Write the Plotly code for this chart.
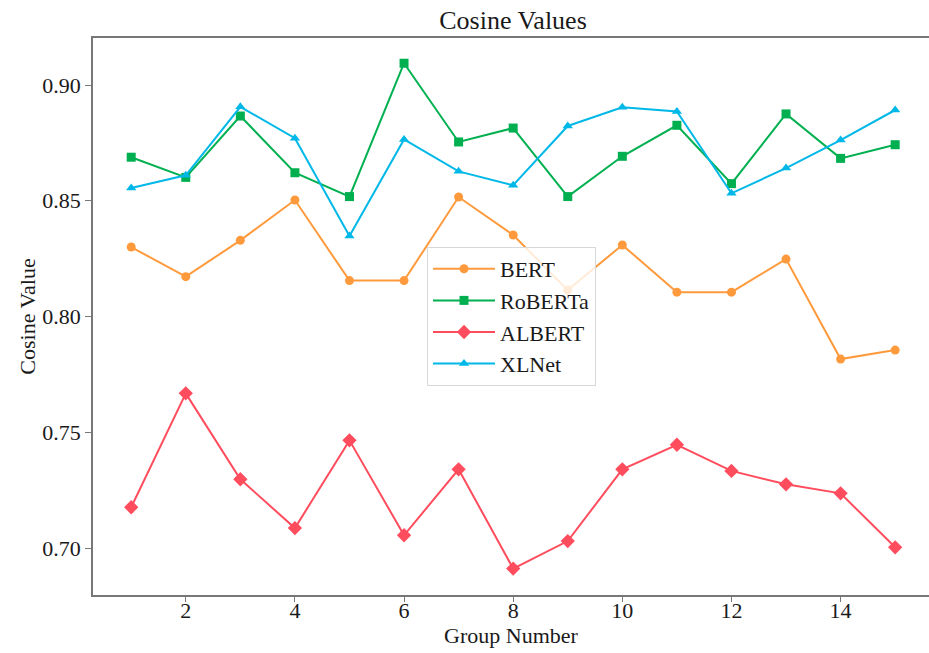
import plotly.graph_objects as go

groups = list(range(1, 16))
bert = [0.8300, 0.8172, 0.8329, 0.8503, 0.8155, 0.8155, 0.8516, 0.8352, 0.8114,
        0.8309, 0.8105, 0.8105, 0.8248, 0.7816, 0.7855]
roberta = [0.8688, 0.8601, 0.8866, 0.8621, 0.8518, 0.9094, 0.8754, 0.8814, 0.8518,
           0.8692, 0.8826, 0.8574, 0.8875, 0.8683, 0.8742]
albert = [0.7176, 0.7668, 0.7297, 0.7086, 0.7465, 0.7055, 0.7340, 0.6911, 0.7030,
          0.7340, 0.7446, 0.7333, 0.7275, 0.7236, 0.7003]
xlnet = [0.8555, 0.8610, 0.8906, 0.8770, 0.8348, 0.8765, 0.8627, 0.8567, 0.8823,
         0.8904, 0.8886, 0.8532, 0.8641, 0.8762, 0.8892]
y_ticks = [0.70, 0.75, 0.80, 0.85, 0.90]
x_ticks = [2, 4, 6, 8, 10, 12, 14]

series = [
    ("BERT", bert, "#FF9A3C", "circle", 9),
    ("RoBERTa", roberta, "#00B050", "square", 9),
    ("ALBERT", albert, "#FF4D5E", "diamond", 11),
    ("XLNet", xlnet, "#00B8E8", "triangle-up", 9),
]

font = "Liberation Serif, Times New Roman, serif"
fig = go.Figure()
for name, vals, color, sym, sz in series:
    fig.add_trace(go.Scatter(
        x=groups, y=vals, name=name, mode="lines+markers",
        line=dict(color=color, width=2),
        marker=dict(symbol=sym, size=sz, color=color),
    ))

W, H = 929, 653
L, R, T, B = 93, 0, 38, 58
pw, ph = W - L - R, H - T - B

fig.update_layout(
    width=W, height=H,
    margin=dict(l=L, r=R, t=T, b=B, pad=0),
    paper_bgcolor="white", plot_bgcolor="white",
    font=dict(family=font, size=22, color="#1a1a1a"),
    title=dict(text="Cosine Values", font=dict(family=font, size=26, color="#1a1a1a"),
               x=(513 - L) / pw, xref="paper", xanchor="center",
               y=1 - 20 / H, yref="container", yanchor="middle"),
    showlegend=True,
    legend=dict(x=(427 - L) / pw, y=(H - B - 247) / ph, xanchor="left", yanchor="top",
                bgcolor="rgba(255,255,255,0.8)", bordercolor="#d8d8d8", borderwidth=1,
                itemwidth=62,
                font=dict(family=font, size=22, color="#1a1a1a")),
)
fig.update_xaxes(
    range=[0.3, 15.62], tickmode="array", tickvals=x_ticks,
    ticks="outside", ticklen=5, tickcolor="#777", ticklabelstandoff=-10,
    showline=True, linecolor="#777", linewidth=1.6, mirror=True,
    showgrid=False, zeroline=False, automargin=False,
    title=dict(text="Group Number", standoff=5, font=dict(family=font, size=22)),
    tickfont=dict(family=font, size=22),
)
fig.update_yaxes(
    range=[0.6797, 0.9203], tickmode="array", tickvals=y_ticks,
    tickformat=".2f",
    ticks="outside", ticklen=6, tickcolor="#777",
    showline=True, linecolor="#777", linewidth=1.6,
    showgrid=False, zeroline=False, automargin=False,
    title=dict(text="Cosine Value", standoff=1, font=dict(family=font, size=22)),
    tickfont=dict(family=font, size=22),
)

fig.write_html("out.html")
